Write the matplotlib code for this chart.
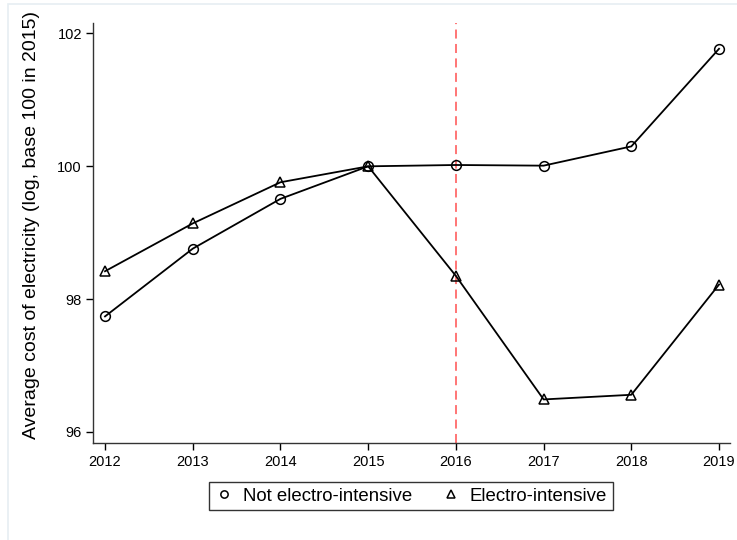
import matplotlib.pyplot as plt
from matplotlib.patches import Rectangle

plt.rcParams['font.family'] = ['Liberation Sans', 'DejaVu Sans']

years = [2012, 2013, 2014, 2015, 2016, 2017, 2018, 2019]
not_electro = [97.74, 98.76, 99.51, 100.0, 100.02, 100.01, 100.30, 101.77]
electro = [98.42, 99.14, 99.76, 100.0, 98.35, 96.49, 96.56, 98.22]
xticks = [2012, 2013, 2014, 2015, 2016, 2017, 2018, 2019]
yticks = [96, 98, 100, 102]
break_year = 2016

fig = plt.figure(figsize=(7.37, 5.4), dpi=100)
# light frame around the graph region (runs past the right and bottom edges)
fig.patches.append(Rectangle((8 / 737, -0.05), 1.0, 1.05 - 4 / 540,
                             transform=fig.transFigure, fill=False,
                             edgecolor='#e6eef2', linewidth=1.2))

ax = fig.add_axes([93 / 737, 1 - 443 / 540, (730 - 93) / 737, (443 - 23) / 540])

ax.axvline(break_year, color='#ff6a6a', linestyle=(0, (5, 3)), linewidth=1.3, zorder=1)

ax.plot(years, not_electro, color='black', linewidth=1.3, marker='o', markersize=7,
        markerfacecolor='none', markeredgecolor='black', markeredgewidth=1.1,
        label='Not electro-intensive', zorder=3)
ax.plot(years, electro, color='black', linewidth=1.3, marker='^', markersize=7.5,
        markerfacecolor='none', markeredgecolor='black', markeredgewidth=1.1,
        label='Electro-intensive', zorder=3)

ax.set_xlim(2011.863, 2019.125)
ax.set_ylim(95.834, 102.158)
ax.set_xticks(xticks)
ax.set_yticks(yticks)
ax.tick_params(axis='both', direction='out', length=5, width=1, labelsize=10.5, colors='black')
ax.tick_params(axis='y', pad=3)
ax.set_ylabel('Average cost of electricity (log, base 100 in 2015)', fontsize=14, labelpad=6)
ax.yaxis.set_label_coords(-0.083, 0.52)

for side in ['top', 'right']:
    ax.spines[side].set_visible(False)
for side in ['left', 'bottom']:
    ax.spines[side].set_color('#333333')
    ax.spines[side].set_linewidth(1)

leg = fig.legend(loc='center', bbox_to_anchor=(411 / 737, 1 - 496 / 540), ncol=2,
                 fontsize=13.4, frameon=True, fancybox=False, edgecolor='black',
                 handlelength=1.0, handletextpad=0.5, columnspacing=1.6,
                 borderpad=0.3, markerscale=0.75)
leg.get_frame().set_linewidth(1)
for h in leg.get_lines():
    h.set_linestyle('none')

fig.savefig('out.png', dpi=100)
